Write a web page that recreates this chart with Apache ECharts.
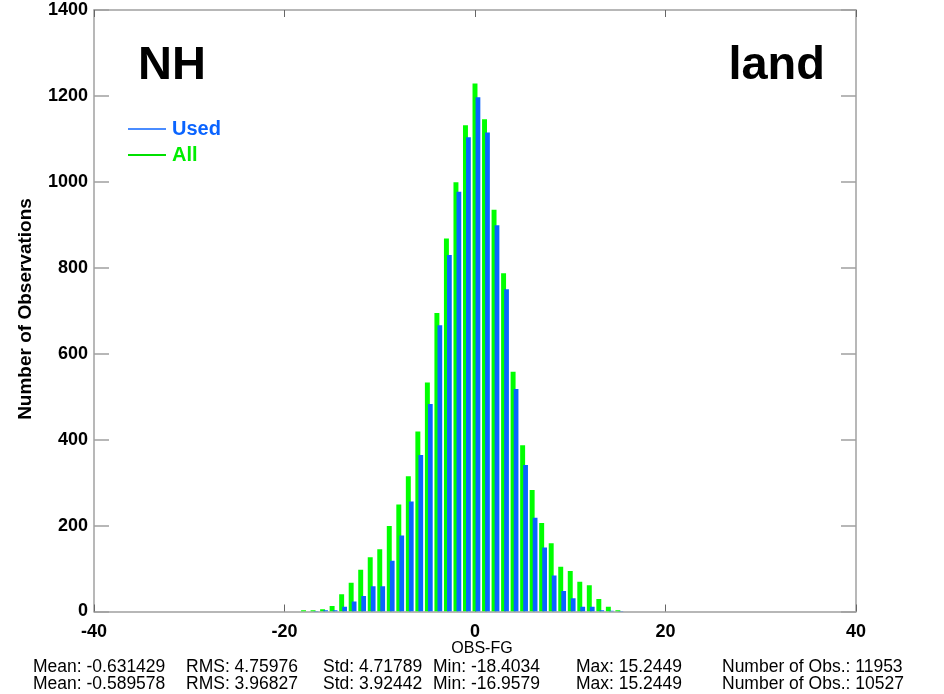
<!DOCTYPE html>
<html><head><meta charset="utf-8">
<script src="https://cdn.jsdelivr.net/npm/echarts@6/dist/echarts.min.js"></script>
<style>html,body{margin:0;padding:0;background:#fff}#c{width:944px;height:694px}</style>
</head><body><div id="c"></div>
<script>
// bin centres (OBS-FG)
const bins = [-18,-17,-16,-15,-14,-13,-12,-11,-10,-9,-8,-7,-6,-5,-4,-3,-2,-1,0,1,2,3,4,5,6,7,8,9,10,11,12,13,14,15];
const allCounts = [3,3,5,13,40,67,97,126,145,199,249,315,419,533,695,868,999,1132,1229,1146,935,787,558,387,283,206,159,104,94,69,61,29,11,3];
const usedCounts = [0,1,3,3,11,23,36,59,59,118,177,256,364,483,666,830,977,1104,1197,1115,899,750,518,341,218,149,84,48,31,11,11,3,2,1];
const xTicks = [-40,-20,0,20,40];
const yTicks = [0,200,400,600,800,1000,1200,1400];
const statsAll = ['Mean: -0.631429','RMS: 4.75976','Std: 4.71789','Min: -18.4034','Max: 15.2449','Number of Obs.: 11953'];
const statsUsed = ['Mean: -0.589578','RMS: 3.96827','Std: 3.92442','Min: -16.9579','Max: 15.2449','Number of Obs.: 10527'];

const FONT = "'Liberation Sans', Arial, Helvetica, sans-serif";
const GREEN = '#00ff00', BLUE = '#0a64ff';
const AX = '#a0a0a0';

function makeRender(lo, hi, color){
  return function(params, api){
    const x = api.value(0), v = api.value(1);
    const p0 = api.coord([x + lo, 0]);
    const p1 = api.coord([x + hi, v]);
    return {type:'rect', shape:{x:p0[0], y:p1[1], width:p1[0]-p0[0], height:p0[1]-p1[1]}, style:{fill:color}};
  };
}
const allData = bins.map((b,i)=>[b, allCounts[i]]);
const usedData = bins.map((b,i)=>[b, usedCounts[i]]);

const axisCommon = {
  type:'value', splitLine:{show:false},
  axisLine:{show:true, onZero:false, lineStyle:{color:AX, width:1.5}},
};
const chart = echarts.init(document.getElementById('c'));

// left edges of the statistics columns
const colX = [33,186,323,433,576,722];
const STAT_FONT = '17.5px ' + FONT;
const graphics = [
  {type:'text', style:{x:138, y:66, text:'NH', font:'bold 47px '+FONT, fill:'#000', textVerticalAlign:'middle'}},
  {type:'text', style:{x:825, y:66, text:'land', font:'bold 47px '+FONT, fill:'#000', textAlign:'right', textVerticalAlign:'middle'}},
  {type:'text', rotation:Math.PI/2, x:26, y:309, style:{x:0, y:0, text:'Number of Observations', font:'bold 19px '+FONT, fill:'#000', textAlign:'center', textVerticalAlign:'middle'}},
  {type:'text', style:{x:482, y:649, text:'OBS-FG', font:'16px '+FONT, fill:'#000', textAlign:'center', textVerticalAlign:'middle'}}
];
statsAll.forEach((s,i)=>graphics.push({type:'text', style:{x:colX[i], y:667, text:s, font:STAT_FONT, fill:'#000', textVerticalAlign:'middle'}}));
statsUsed.forEach((s,i)=>graphics.push({type:'text', style:{x:colX[i], y:684, text:s, font:STAT_FONT, fill:'#000', textVerticalAlign:'middle'}}));

chart.setOption({
  animation:false,
  backgroundColor:'#fff',
  grid:{left:94, right:88, top:10, bottom:82.5},
  legend:{
    orient:'vertical', left:123, top:114, itemWidth:38, itemHeight:2, itemGap:6, icon:'rect',
    data:[{name:'Used', itemStyle:{color:'#4a8cff'}, textStyle:{color:BLUE}}, {name:'All', itemStyle:{color:'#00e000'}, textStyle:{color:'#00ee00'}}],
    textStyle:{fontSize:20, fontWeight:'bold', fontFamily:FONT, padding:[0,0,0,1]}
  },
  xAxis:[
    Object.assign({}, axisCommon, {position:'bottom', min:-40, max:40, interval:20,
      axisTick:{show:true, inside:true, length:7, lineStyle:{color:'#666', width:1}},
      axisLabel:{show:true, margin:12, color:'#000', fontSize:18, fontWeight:'bold', fontFamily:FONT,
        formatter:v=> xTicks.includes(v) ? String(v) : ''}}),
    Object.assign({}, axisCommon, {position:'top', min:-40, max:40, interval:20,
      axisTick:{show:true, inside:true, length:7, lineStyle:{color:'#666', width:1}}, axisLabel:{show:false}})
  ],
  yAxis:[
    Object.assign({}, axisCommon, {position:'left', min:0, max:1400, interval:200,
      axisTick:{show:true, inside:true, length:15, lineStyle:{color:AX, width:1.5}},
      axisLabel:{show:true, margin:6, color:'#000', fontSize:18, fontWeight:'bold', fontFamily:FONT,
        formatter:v=> yTicks.includes(v) ? String(v) : ''}}),
    Object.assign({}, axisCommon, {position:'right', min:0, max:1400, interval:200,
      axisTick:{show:true, inside:true, length:15, lineStyle:{color:AX, width:1.5}}, axisLabel:{show:false}})
  ],
  series:[
    {name:'All', type:'custom', xAxisIndex:0, yAxisIndex:0, itemStyle:{color:GREEN}, data:allData,
      encode:{x:0, y:1}, renderItem:makeRender(-0.26, 0.26, GREEN), clip:true},
    {name:'Used', type:'custom', xAxisIndex:0, yAxisIndex:0, itemStyle:{color:BLUE}, data:usedData,
      encode:{x:0, y:1}, renderItem:makeRender(0.06, 0.56, BLUE), clip:true}
  ],
  graphic:graphics
});
</script></body></html>
